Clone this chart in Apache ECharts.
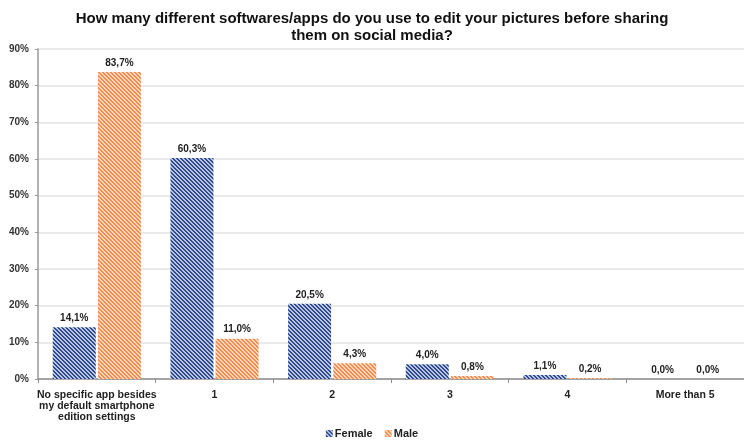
<!DOCTYPE html>
<html>
<head>
<meta charset="utf-8">
<script src="https://cdn.jsdelivr.net/npm/echarts@6/dist/echarts.min.js"></script>
<style>
html,body{margin:0;padding:0;background:#fff;}
#chart{width:744px;height:443px;}
</style>
</head>
<body>
<div id="chart"></div>
<script>
// Number of editing apps used, by gender (percent of respondents)
const categories = [
  'No specific app besides\nmy default smartphone\nedition settings',
  '1', '2', '3', '4', 'More than 5'
];
const female = [14.1, 60.3, 20.5, 4.0, 1.1, 0.0];
const male = [83.7, 11.0, 4.3, 0.8, 0.2, 0.0];
const yTicks = [0, 10, 20, 30, 40, 50, 60, 70, 80, 90];

// Diagonal hatch tile used as bar fill (two-pixel light stripe every 4px)
function hatch(base, stripe) {
  const n = 4;
  const c = document.createElement('canvas');
  c.width = n; c.height = n;
  const ctx = c.getContext('2d');
  ctx.fillStyle = base;
  ctx.fillRect(0, 0, n, n);
  ctx.fillStyle = stripe;
  for (let y = 0; y < n; y++) {
    for (let x = 0; x < n; x++) {
      const d = ((x - y) % n + n) % n;
      if (d === 0 || d === 1) ctx.fillRect(x, y, 1, 1);
    }
  }
  return { image: c, repeat: 'repeat' };
}

const femaleFill = hatch('#2f4b90', '#b9c4e0');
const maleFill = hatch('#f28b4d', '#fcd6ba');

const fmt = v => v.toFixed(1).replace('.', ',') + '%';
const font = 'Liberation Sans, Arial, sans-serif';

const chart = echarts.init(document.getElementById('chart'), null, { renderer: 'canvas' });
chart.setOption({
  animation: false,
  title: {
    text: 'How many different softwares/apps do you use to edit your pictures before sharing\nthem on social media?',
    left: 'center',
    top: 5,
    textStyle: { fontFamily: font, fontSize: 15, fontWeight: 'bold', color: '#111', lineHeight: 17 }
  },
  legend: {
    bottom: -1,
    left: 'center',
    itemWidth: 7,
    itemHeight: 7,
    itemGap: 12,
    icon: 'rect',
    textStyle: { fontFamily: font, fontSize: 11, fontWeight: 'bold', color: '#222', padding: [0, 0, 0, -3] },
    data: ['Female', 'Male']
  },
  grid: { left: 38, right: -2, top: 49, bottom: 64 },
  xAxis: {
    type: 'category',
    data: categories,
    axisLine: { lineStyle: { color: '#8c8c8c', width: 1.5 } },
    axisTick: { show: true, length: 4, inside: false, lineStyle: { color: '#8c8c8c' } },
    axisLabel: {
      fontFamily: font, fontSize: 10.5, fontWeight: 'bold', color: '#222',
      interval: 0, margin: 11, lineHeight: 11
    }
  },
  yAxis: {
    type: 'value',
    min: 0, max: 90, interval: 10,
    axisLine: { show: true, lineStyle: { color: '#9a9a9a', width: 1.5 } },
    axisTick: { show: true, length: 3, lineStyle: { color: '#9a9a9a' } },
    splitLine: { lineStyle: { color: '#e3e3e3', width: 1.5 } },
    axisLabel: {
      fontFamily: font, fontSize: 10, fontWeight: 'bold', color: '#333', margin: 9,
      formatter: v => (yTicks.indexOf(v) >= 0 ? v + '%' : '')
    }
  },
  series: [
    {
      name: 'Female', type: 'bar', data: female,
      barWidth: 43, barGap: '5%',
      itemStyle: { color: femaleFill },
      label: { show: true, position: 'top', distance: 4, formatter: p => fmt(p.value),
        fontFamily: font, fontSize: 10, fontWeight: 'bold', color: '#222' }
    },
    {
      name: 'Male', type: 'bar', data: male,
      barWidth: 43,
      itemStyle: { color: maleFill },
      label: { show: true, position: 'top', distance: 4, formatter: p => fmt(p.value),
        fontFamily: font, fontSize: 10, fontWeight: 'bold', color: '#222' }
    }
  ]
});
</script>
</body>
</html>
